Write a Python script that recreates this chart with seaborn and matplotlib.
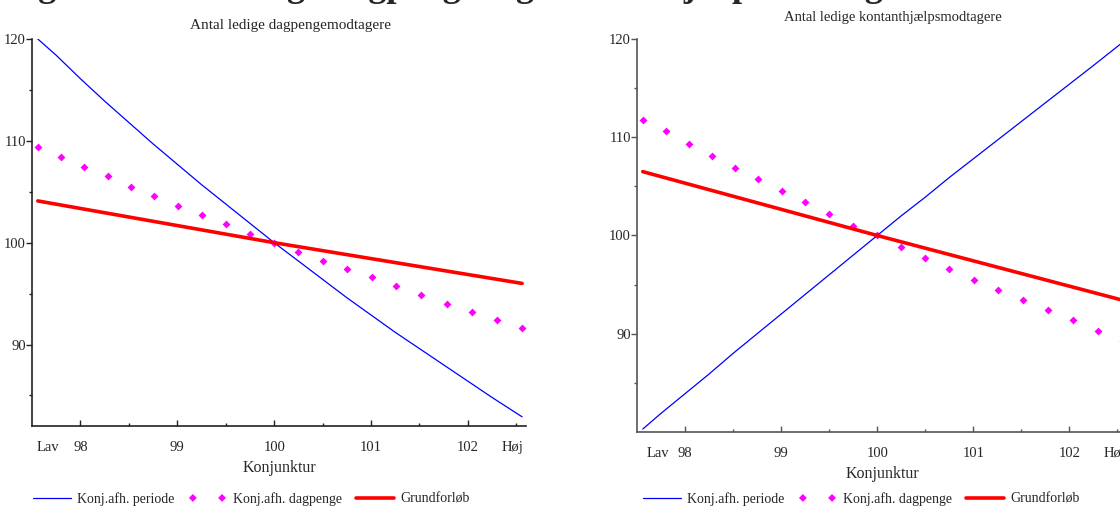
import matplotlib
matplotlib.use("Agg")
import matplotlib.pyplot as plt
import pandas as pd
import seaborn as sns

# ---------------- data ----------------
fig_title = "Figur 2. Antal ledige dagpenge- og kontanthjælpsmodtagere"
left_title = "Antal ledige dagpengemodtagere"
right_title = "Antal ledige kontanthjælpsmodtagere"
x_label = "Konjunktur"
series_names = ["Konj.afh. periode", "Konj.afh. dagpenge", "Grundforløb"]
x_tick_values = [98, 99, 100, 101, 102]
x_tick_labels = ["98", "99", "100", "101", "102"]
low_label, high_label = "Lav", "Høj"
y_tick_values = [90, 100, 110, 120]

dot_x = [97.56, 97.80, 98.04, 98.28, 98.52, 98.76, 99.01, 99.25, 99.50, 99.75,
         100.00, 100.25, 100.50, 100.75, 101.01, 101.26, 101.52, 101.78, 102.04,
         102.30, 102.56]
left_dots = [109.4, 108.4, 107.4, 106.5, 105.5, 104.6, 103.6, 102.7, 101.8, 100.9,
             100.0, 99.1, 98.2, 97.4, 96.6, 95.7, 94.9, 94.0, 93.2, 92.4, 91.6]
right_dots = [111.8, 110.6, 109.3, 108.1, 106.9, 105.7, 104.5, 103.4, 102.2, 101.0,
              100.0, 98.8, 97.7, 96.6, 95.5, 94.5, 93.4, 92.4, 91.4, 90.3, 89.3]

blue_x = [97.56, 97.75, 98.0, 98.25, 98.5, 98.75, 99.0, 99.25, 99.5, 99.75, 100.0,
          100.25, 100.5, 100.75, 101.0, 101.25, 101.5, 101.75, 102.0, 102.25, 102.56]
left_blue = [120.0, 118.4, 116.1, 113.9, 111.8, 109.7, 107.7, 105.7, 103.8, 101.9,
             100.0, 98.2, 96.4, 94.6, 92.9, 91.2, 89.6, 88.0, 86.4, 84.8, 82.9]
right_blue = [80.3, 81.9, 83.9, 85.9, 88.0, 90.0, 92.0, 94.0, 96.0, 98.0, 100.0,
              102.0, 103.9, 105.9, 107.8, 109.7, 111.6, 113.5, 115.4, 117.3, 119.7]

red_x = [97.56, 100.0, 102.56]
left_red = [104.1, 100.0, 96.0]
right_red = [106.5, 100.0, 93.4]

# ---------------- style ----------------
sns.set_theme(style="white")
plt.rcParams['font.family'] = ['Liberation Serif', 'DejaVu Serif']

BLUE, MAGENTA, RED = "#0000ff", "#ff00ff", "#ff0000"
W, H = 1120, 511
fig = plt.figure(figsize=(W / 100, H / 100), dpi=100)


def px_axes(x0, y0, x1, y1):
    return fig.add_axes([x0 / W, 1 - y1 / H, (x1 - x0) / W, (y1 - y0) / H])


ax_l = px_axes(32, 39, 526, 426)
ax_r = px_axes(637, 39, 1127, 432)

TICK_PAD = 11


def draw(ax, blue_y, dots_y, red_y, ylim, spine_col, low_x, high_x):
    sns.lineplot(x=blue_x, y=blue_y, ax=ax, color=BLUE, linewidth=0.9,
                 label=series_names[0])
    sns.scatterplot(x=dot_x, y=dots_y, ax=ax, color=MAGENTA, marker="D", s=16,
                    linewidth=0, label=series_names[1])
    sns.lineplot(x=red_x, y=red_y, ax=ax, color=RED, linewidth=2.6,
                 label=series_names[2])
    ax.set_xlim(97.5, 102.6)
    ax.set_ylim(*ylim)
    for s in ["top", "right"]:
        ax.spines[s].set_visible(False)
    for s in ["left", "bottom"]:
        ax.spines[s].set_color(spine_col)
        ax.spines[s].set_linewidth(1.2)
    ax.set_xticks(x_tick_values)
    ax.set_xticklabels(x_tick_labels)
    ax.set_xticks([98.5, 99.5, 100.5, 101.5, 102.5], minor=True)
    ax.set_yticks(y_tick_values)
    ax.set_yticks([85, 95, 105, 115], minor=True)
    ax.tick_params(axis="x", which="major", direction="in", length=4.5, width=1,
                   color=spine_col, pad=TICK_PAD, labelsize=10.5, bottom=True)
    ax.tick_params(axis="x", which="minor", direction="in", length=2.5, width=1,
                   color=spine_col, bottom=True)
    ax.tick_params(axis="y", which="major", direction="out", length=4, width=1,
                   color=spine_col, pad=0.5, labelsize=10.5, left=True)
    ax.tick_params(axis="y", which="minor", direction="out", length=2, width=1,
                   color=spine_col, left=True)
    ax.set_xlabel(x_label, fontsize=11.5, labelpad=4)
    ax.set_ylabel("")
    for xv, txt in [(low_x, low_label), (high_x, high_label)]:
        ax.annotate(txt, xy=(xv, 0), xycoords=("data", "axes fraction"),
                    xytext=(0, -TICK_PAD), textcoords="offset points",
                    ha="center", va="top", fontsize=10.5)
    h, l = ax.get_legend_handles_labels()
    ax.get_legend().remove()
    return h, l


LEG = dict(loc="upper left", ncol=3, frameon=False, fontsize=10, handlelength=2.7,
           handletextpad=0.5, columnspacing=1.0, scatterpoints=2,
           scatteryoffsets=[0.5], borderaxespad=0, borderpad=0)

h, l = draw(ax_l, left_blue, left_dots, left_red, (82, 120), "#222222", 97.66, 102.46)
fig.legend(h, l, bbox_to_anchor=(33 / W, 1 - 492 / H), **LEG)

h, l = draw(ax_r, right_blue, right_dots, right_red, (80, 120), "#555555", 97.72, 102.47)
fig.legend(h, l, bbox_to_anchor=(643 / W, 1 - 492 / H), **LEG)

fig.text(290 / W, 1 - 25 / H, left_title, ha="center", va="center", fontsize=11)
fig.text(893 / W, 1 - 18 / H, right_title, ha="center", va="center", fontsize=10.5)
fig.text(6 / W, 1 + 4 / H, fig_title, ha="left", va="baseline", fontsize=26,
         fontweight="bold")

fig.savefig("out.png", dpi=100)
